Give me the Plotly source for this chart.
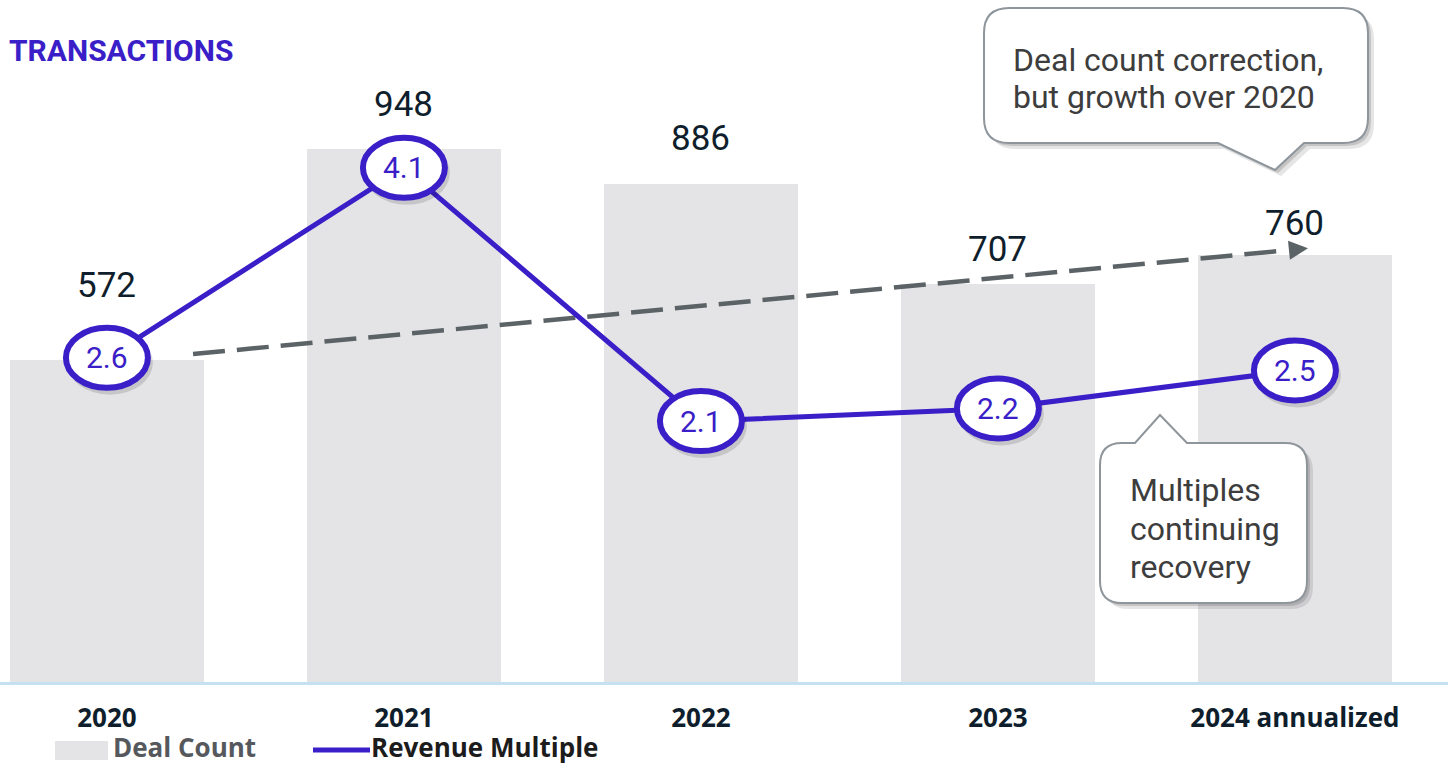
import plotly.graph_objects as go

# ---------------- data ----------------
CATEGORIES = ["2020", "2021", "2022", "2023", "2024 annualized"]
DEAL_COUNT = [572, 948, 886, 707, 760]
REVENUE_MULTIPLE = [2.6, 4.1, 2.1, 2.2, 2.5]
TITLE = "TRANSACTIONS"
CALLOUT_TOP = ["Deal count correction,", "but growth over 2020"]
CALLOUT_BOTTOM = ["Multiples", "continuing", "recovery"]
LEGEND_BARS = "Deal Count"
LEGEND_LINE = "Revenue Multiple"

# ---------------- style ----------------
W, H = 1448, 765
M_T, M_B = 7, 83
PLOT_H = H - M_T - M_B
BASE_PX = H - M_B
PURPLE = "#3a1ec8"
BAR_GRAY = "#e4e4e6"
DARK = "#0f1e2c"
TREND_GRAY = "#5b6367"
LABEL_YSHIFT = [75, 44, 45, 35, 31]

X_RANGE = [-0.36, -0.36 + W / 297.0]
Y_RANGE = [0, 1200]
Y2_RANGE = [0.04, 5.37]


def paper(px, py):
    return px / W, (BASE_PX - py) / PLOT_H


def fmt(px, py):
    x, y = paper(px, py)
    return f"{x:.5f},{y:.5f}"


def callout_path(l, t, r, b, rad, tail, side, dx=0, dy=0):
    l, t, r, b = l + dx, t + dy, r + dx, b + dy
    (b1, apx, apy, b2) = tail
    b1, b2, apx, apy = b1 + dx, b2 + dx, apx + dx, apy + dy
    p = [f"M{fmt(l + rad, t)}"]
    if side == "top":
        p += [f"L{fmt(b1, t)}", f"L{fmt(apx, apy)}", f"L{fmt(b2, t)}"]
    p += [f"L{fmt(r - rad, t)}", f"Q{fmt(r, t)} {fmt(r, t + rad)}",
          f"L{fmt(r, b - rad)}", f"Q{fmt(r, b)} {fmt(r - rad, b)}"]
    if side == "bottom":
        p += [f"L{fmt(b2, b)}", f"L{fmt(apx, apy)}", f"L{fmt(b1, b)}"]
    p += [f"L{fmt(l + rad, b)}", f"Q{fmt(l, b)} {fmt(l, b - rad)}",
          f"L{fmt(l, t + rad)}", f"Q{fmt(l, t)} {fmt(l + rad, t)}", "Z"]
    return " ".join(p)


idx = list(range(len(CATEGORIES)))

fig = go.Figure()
fig.add_trace(go.Bar(x=idx, y=DEAL_COUNT, width=0.653, marker=dict(color=BAR_GRAY, line=dict(width=0)),
                     name=LEGEND_BARS, showlegend=False, hoverinfo="skip"))

# trend arrow (from first to last deal count)
tx0, ty0 = idx[0] + 0.29, DEAL_COUNT[0] + 11
tx1, ty1 = idx[-1] + 0.044, DEAL_COUNT[-1] + 11
frac = 1 - 20 / 1115
fig.add_trace(go.Scatter(x=[tx0, tx0 + (tx1 - tx0) * frac], y=[ty0, ty0 + (ty1 - ty0) * frac],
                         mode="lines", line=dict(color=TREND_GRAY, width=4.5, dash="32px,12px"),
                         showlegend=False, hoverinfo="skip"))

fig.add_trace(go.Scatter(x=idx, y=REVENUE_MULTIPLE, yaxis="y2", mode="lines",
                         line=dict(color=PURPLE, width=5), name=LEGEND_LINE, showlegend=False,
                         hoverinfo="skip"))

shapes = []
annotations = []

# ellipses around the multiples
for i, v in zip(idx, REVENUE_MULTIPLE):
    common = dict(type="circle", xref="x", yref="y2", xsizemode="pixel", ysizemode="pixel",
                  xanchor=i, yanchor=v, layer="above")
    shapes.append(dict(common, x0=-40, x1=46, y0=-37, y1=27, fillcolor="rgba(0,0,0,0.13)",
                       line=dict(width=0)))
    shapes.append(dict(common, x0=-41, x1=41, y0=-30, y1=30, fillcolor="white",
                       line=dict(color=PURPLE, width=6)))
    annotations.append(dict(x=i, y=v, xref="x", yref="y2", text=f"{v:.1f}", showarrow=False,
                            font=dict(family="Roboto", size=30, color=PURPLE)))

# deal count labels
for i, d in zip(idx, DEAL_COUNT):
    annotations.append(dict(x=i, y=d, xref="x", yref="y", text=str(d), showarrow=False,
                            yshift=LABEL_YSHIFT[i], yanchor="middle",
                            font=dict(family="Roboto", size=35, color=DARK)))

# arrow head
annotations.append(dict(x=tx1, y=ty1, xref="x", yref="y", ax=-20, ay=2, axref="pixel", ayref="pixel",
                        showarrow=True, arrowhead=2, arrowsize=0.85, arrowwidth=4.5,
                        arrowcolor=TREND_GRAY, standoff=0, text=""))

# callouts
for box, side, lines, tx, ty0_, dy_ in [
    ((984, 8, 1368, 143, 25, (1218, 1275, 170, 1304)), "bottom", CALLOUT_TOP, 1011, 60, 37),
    ((1100, 443, 1307, 603, 22, (1135, 1160, 415, 1187)), "top", CALLOUT_BOTTOM, 1128, 490, 38.5),
]:
    l, t, r, b, rad, tail = box
    shapes.append(dict(type="path", xref="paper", yref="paper", layer="above",
                       path=callout_path(l, t, r, b, rad, tail, side, 6, 6),
                       fillcolor="rgba(0,0,0,0.10)", line=dict(width=0)))
    shapes.append(dict(type="path", xref="paper", yref="paper", layer="above",
                       path=callout_path(l, t, r, b, rad, tail, side, 3, 3),
                       fillcolor="rgba(0,0,0,0.14)", line=dict(width=0)))
    shapes.append(dict(type="path", xref="paper", yref="paper", layer="above",
                       path=callout_path(l, t, r, b, rad, tail, side),
                       fillcolor="white", line=dict(color="#8e959b", width=2)))
    for k, line in enumerate(lines):
        px_, py_ = paper(tx, ty0_ + k * dy_)
        annotations.append(dict(x=px_, y=py_, xref="paper", yref="paper", xanchor="left",
                                yanchor="middle", align="left", text=line, showarrow=False,
                                font=dict(family="Roboto", size=32, color="#3d3d3d")))

# title
tx_, ty_ = paper(7, 50)
annotations.append(dict(x=tx_, y=ty_, xref="paper", yref="paper", xanchor="left", yanchor="middle",
                        text=TITLE, showarrow=False,
                        font=dict(family="Roboto", size=30, color=PURPLE, weight="bold")))

# custom legend
x0, y0 = paper(55, 741)
x1, y1 = paper(108, 760)
shapes.append(dict(type="rect", xref="paper", yref="paper", x0=x0, x1=x1, y0=y1, y1=y0,
                   fillcolor=BAR_GRAY, line=dict(width=0)))
lx, ly = paper(112, 747)
annotations.append(dict(x=lx, y=ly, xref="paper", yref="paper", xanchor="left", yanchor="middle",
                        text=LEGEND_BARS, showarrow=False, borderpad=0,
                        font=dict(family="Open Sans", size=26, color="#55595d", weight="bold")))
x0, yl = paper(313, 750)
x1, _ = paper(370, 750)
shapes.append(dict(type="line", xref="paper", yref="paper", x0=x0, x1=x1, y0=yl, y1=yl,
                   line=dict(color=PURPLE, width=5)))
lx, ly = paper(370, 747)
annotations.append(dict(x=lx, y=ly, xref="paper", yref="paper", xanchor="left", yanchor="middle",
                        text=LEGEND_LINE, showarrow=False, borderpad=0,
                        font=dict(family="Open Sans", size=26, color="#1c1c1c", weight="bold")))

fig.update_layout(
    width=W, height=H, autosize=False,
    margin=dict(l=0, r=0, t=M_T, b=M_B, pad=0),
    paper_bgcolor="white", plot_bgcolor="white",
    showlegend=False, bargap=0,
    xaxis=dict(range=X_RANGE, tickvals=idx, ticktext=CATEGORIES, showgrid=False, zeroline=False,
               showline=True, linecolor="#c5e1f1", linewidth=3, ticks="", ticklabelstandoff=11,
               tickfont=dict(family="Open Sans", size=26, color=DARK, weight="bold"), fixedrange=True),
    yaxis=dict(range=Y_RANGE, visible=False, fixedrange=True),
    yaxis2=dict(range=Y2_RANGE, overlaying="y", visible=False, fixedrange=True),
    shapes=shapes, annotations=annotations,
)

fig.write_html("out.html", config={"displayModeBar": False},
               post_script="document.body.style.margin='0';document.body.style.overflow='hidden';")
